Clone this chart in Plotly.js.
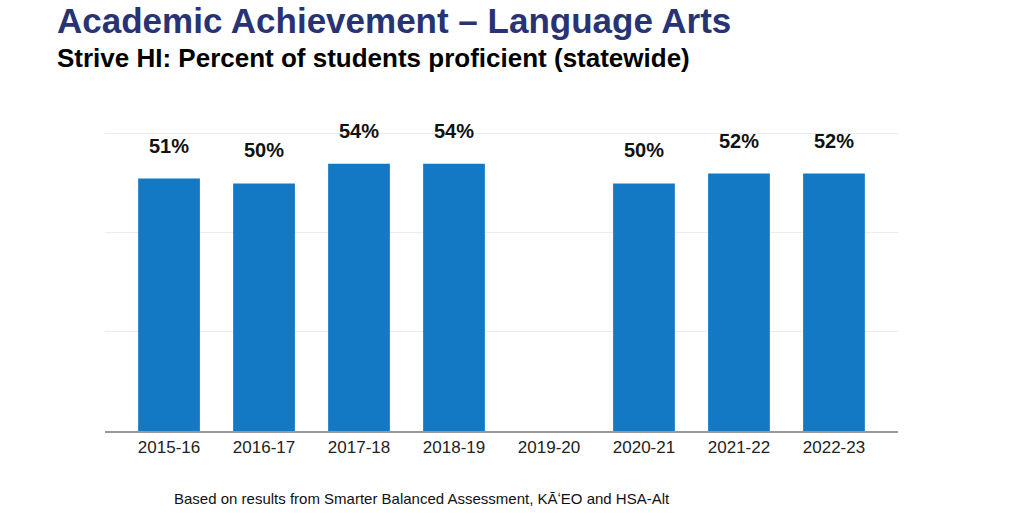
<!DOCTYPE html>
<html>
<head>
<meta charset="utf-8">
<script src="https://cdn.plot.ly/plotly-3.0.1.min.js"></script>
<style>
  html, body { margin: 0; padding: 0; background: #fff; }
  #chart { width: 1024px; height: 527px; }
</style>
</head>
<body>
<div id="chart"></div>
<script>
// school years and percent proficient (2019-20 not tested)
var years = ['2015-16', '2016-17', '2017-18', '2018-19', '2019-20', '2020-21', '2021-22', '2022-23'];
var proficient = [51, 50, 54, 54, null, 50, 52, 52];
var gridVals = [20, 40, 60];

var font = 'Liberation Sans, Arial, sans-serif';

var labels = [];
for (var i = 0; i < years.length; i++) {
  if (proficient[i] === null) continue;
  labels.push({
    x: years[i], y: proficient[i], xref: 'x', yref: 'y',
    text: '<b>' + proficient[i] + '%</b>',
    showarrow: false, yanchor: 'middle', yshift: 33,
    font: {family: font, size: 20, color: '#111'}
  });
}

labels.push({
  xref: 'paper', yref: 'paper', x: 0.40, y: -0.225,
  xanchor: 'center', yanchor: 'middle', showarrow: false,
  text: 'Based on results from Smarter Balanced Assessment, KĀʻEO and HSA-Alt',
  font: {family: font, size: 15, color: '#111'}
});
labels.push({
  xref: 'paper', yref: 'paper', x: -0.063, y: 1.36,
  xanchor: 'left', yanchor: 'middle', showarrow: false,
  text: '<b>Academic Achievement – Language Arts</b>',
  font: {family: font, size: 35, color: '#283374'}
});
labels.push({
  xref: 'paper', yref: 'paper', x: -0.063, y: 1.235,
  xanchor: 'left', yanchor: 'middle', showarrow: false,
  text: '<b>Strive HI: Percent of students proficient (statewide)</b>',
  font: {family: font, size: 26, color: '#000'}
});

var trace = {
  type: 'bar',
  x: years,
  y: proficient,
  width: 0.65,
  marker: {color: '#1479c4'},
  hoverinfo: 'x+y'
};

var layout = {
  width: 1024, height: 527,
  margin: {l: 105, r: 126, t: 129, b: 96},
  paper_bgcolor: '#fff', plot_bgcolor: '#fff',
  showlegend: false,
  xaxis: {
    type: 'category', range: [-0.674, 7.674],
    showgrid: false, zeroline: false,
    showline: true, linecolor: '#999', linewidth: 1.5,
    ticks: '', tickfont: {family: font, size: 17, color: '#222'}
  },
  yaxis: {
    range: [0, 61], tickvals: gridVals,
    showticklabels: false, gridcolor: '#ececec', zeroline: false,
    fixedrange: true
  },
  annotations: labels
};

Plotly.newPlot('chart', [trace], layout, {displayModeBar: false, staticPlot: true});
</script>
</body>
</html>
